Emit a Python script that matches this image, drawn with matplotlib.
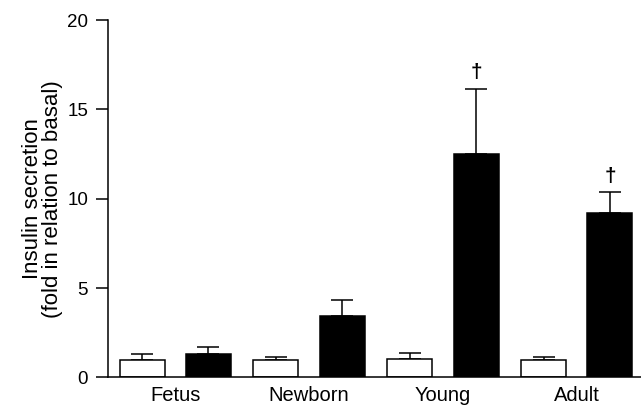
import matplotlib
matplotlib.use("Agg")
import matplotlib.pyplot as plt
import numpy as np

plt.rcParams['font.family'] = ['Liberation Sans', 'DejaVu Sans']

groups = ["Fetus", "Newborn", "Young", "Adult"]
basal = [1.0, 1.0, 1.02, 0.98]
basal_err = [0.32, 0.15, 0.34, 0.19]
stim = [1.32, 3.43, 12.52, 9.22]
stim_err = [0.39, 0.92, 3.64, 1.16]
markers = ["", "", "†", "†"]

fig = plt.figure(figsize=(6.41, 4.08), dpi=100)
ax = fig.add_axes([0.169, 0.0748, 0.831, 0.876])

x = np.arange(len(groups))
w = 0.336
off = 0.248
lw = 1.1
ax.bar(x - off, basal, w, color="white", edgecolor="black", linewidth=lw, zorder=2)
ax.errorbar(x - off, basal, yerr=[np.zeros(4), basal_err], fmt="none",
            ecolor="black", elinewidth=lw, capsize=8, capthick=lw, zorder=1)
ax.bar(x + off, stim, w, color="black", edgecolor="black", linewidth=lw, zorder=2)
ax.errorbar(x + off, stim, yerr=[np.zeros(4), stim_err], fmt="none",
            ecolor="black", elinewidth=lw, capsize=8, capthick=lw, zorder=1)

for xi, s, e, m in zip(x, stim, stim_err, markers):
    if m:
        ax.text(xi + off, s + e + 0.35, m, ha="center", va="bottom",
                fontsize=15, fontweight="bold")

ax.set_xlim(-0.5, 3.48)
ax.set_ylim(0, 20)
ax.set_yticks([0, 5, 10, 15, 20])
ax.set_xticks(x)
ax.set_xticklabels(groups)
ax.tick_params(axis="x", length=0, pad=6, labelsize=14.5)
ax.tick_params(axis="y", length=8.5, width=lw, direction="out", pad=6, labelsize=13.5)
ax.spines["top"].set_visible(False)
ax.spines["right"].set_visible(False)
ax.spines["left"].set_linewidth(lw)
ax.spines["bottom"].set_linewidth(lw)
ax.set_ylabel("Insulin secretion\n(fold in relation to basal)", fontsize=16,
              labelpad=3, linespacing=0.95)

fig.savefig("out.png", dpi=100)
